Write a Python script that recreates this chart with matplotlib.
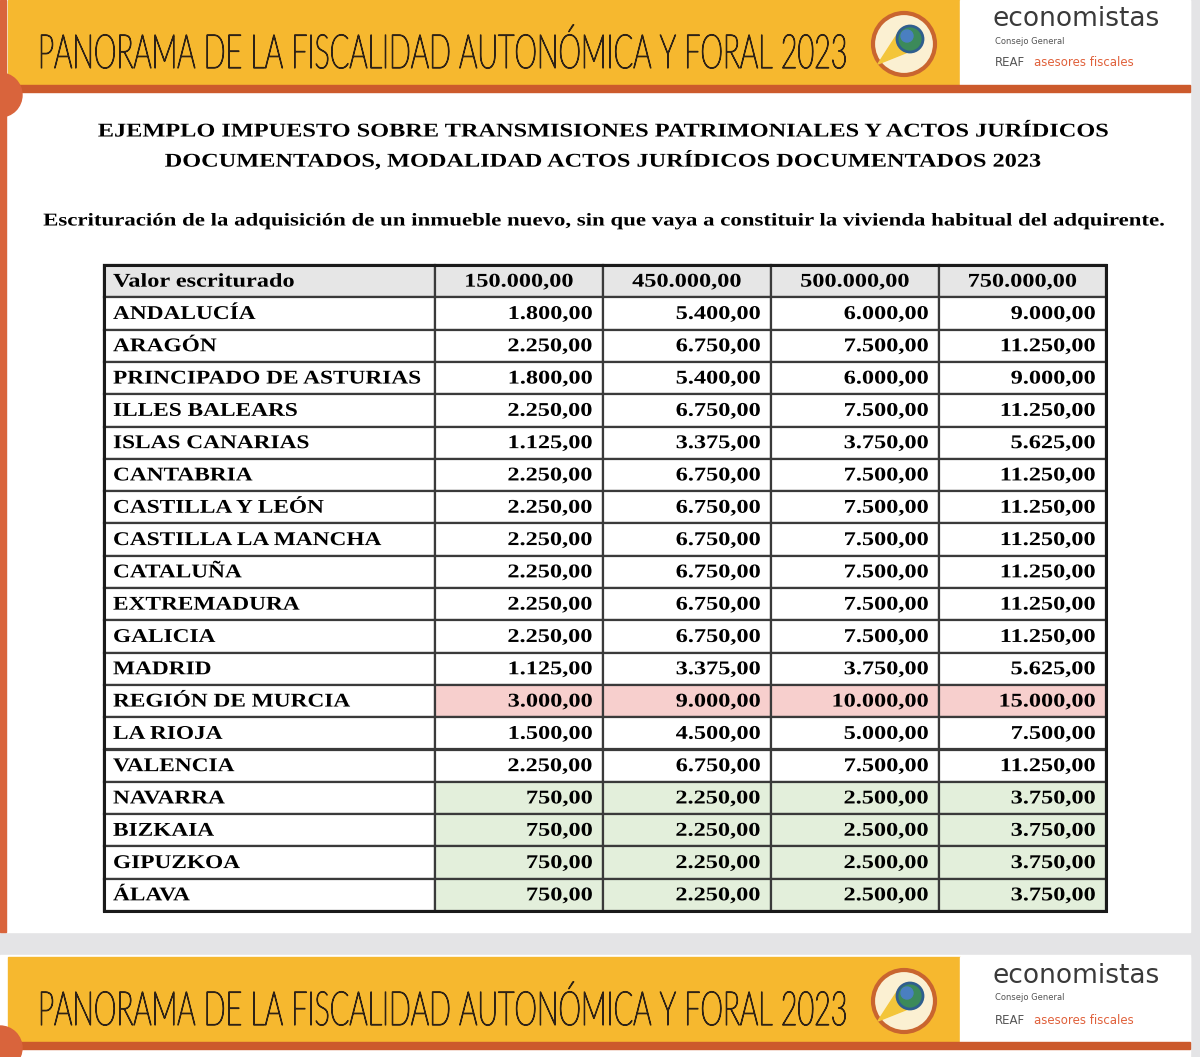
import matplotlib
matplotlib.use("Agg")
import matplotlib.pyplot as plt
from matplotlib.patches import Rectangle, Circle, Polygon
from matplotlib.patheffects import AbstractPathEffect
from matplotlib.transforms import Affine2D

# data
header = ["Valor escriturado", "150.000,00", "450.000,00", "500.000,00", "750.000,00"]
regions = ["ANDALUCÍA", "ARAGÓN", "PRINCIPADO DE ASTURIAS", "ILLES BALEARS",
           "ISLAS CANARIAS", "CANTABRIA", "CASTILLA Y LEÓN", "CASTILLA LA MANCHA",
           "CATALUÑA", "EXTREMADURA", "GALICIA", "MADRID", "REGIÓN DE MURCIA",
           "LA RIOJA", "VALENCIA", "NAVARRA", "BIZKAIA", "GIPUZKOA", "ÁLAVA"]
v150 = [1800, 2250, 1800, 2250, 1125, 2250, 2250, 2250, 2250, 2250, 2250, 1125,
        3000, 1500, 2250, 750, 750, 750, 750]
v450 = [5400, 6750, 5400, 6750, 3375, 6750, 6750, 6750, 6750, 6750, 6750, 3375,
        9000, 4500, 6750, 2250, 2250, 2250, 2250]
v500 = [6000, 7500, 6000, 7500, 3750, 7500, 7500, 7500, 7500, 7500, 7500, 3750,
        10000, 5000, 7500, 2500, 2500, 2500, 2500]
v750 = [9000, 11250, 9000, 11250, 5625, 11250, 11250, 11250, 11250, 11250, 11250, 5625,
        15000, 7500, 11250, 3750, 3750, 3750, 3750]
highlight_red = ["REGIÓN DE MURCIA"]
highlight_green = ["NAVARRA", "BIZKAIA", "GIPUZKOA", "ÁLAVA"]

title1 = "EJEMPLO IMPUESTO SOBRE TRANSMISIONES PATRIMONIALES Y ACTOS JURÍDICOS"
title2 = "DOCUMENTADOS, MODALIDAD ACTOS JURÍDICOS DOCUMENTADOS 2023"
subtitle = ("Escrituración de la adquisición de un inmueble nuevo, sin que vaya a "
            "constituir la vivienda habitual del adquirente.")
banner = "PANORAMA DE LA FISCALIDAD AUTONÓMICA Y FORAL 2023"


def fmt(v):
    s = f"{v:,.2f}"
    return s.replace(",", "X").replace(".", ",").replace("X", ".")


class Stretch(AbstractPathEffect):
    """scale glyphs around a fixed display point, optional outline stroke"""
    def __init__(self, sx, sy, x0, y0, stroke=0.0, color="black"):
        super().__init__()
        self.sx, self.sy = sx, sy
        self.x0, self.y0 = x0, y0
        self.stroke = stroke
        self.color = color

    def draw_path(self, renderer, gc, tpath, affine, rgbFace=None):
        t = affine + Affine2D().translate(-self.x0, -self.y0) \
            .scale(self.sx, self.sy).translate(self.x0, self.y0)
        if self.stroke > 0:
            gc0 = renderer.new_gc()
            gc0.copy_properties(gc)
            gc0.set_linewidth(self.stroke)
            gc0.set_foreground(self.color)
            renderer.draw_path(gc0, tpath, t, rgbFace)
            gc0.restore()
        else:
            renderer.draw_path(gc, tpath, t, rgbFace)


YELLOW = "#F6B82F"
ORANGE = "#CC5A2C"
SERIF = ["Liberation Serif", "DejaVu Serif"]
WIDE = 1.25

fig = plt.figure(figsize=(12, 10.57), dpi=100)
ax = fig.add_axes([0, 0, 1, 1])
ax.set_xlim(0, 1200)
ax.set_ylim(1057, 0)
ax.axis("off")
fig.patch.set_facecolor("#E4E4E6")
renderer = fig.canvas.get_renderer()


def stext(x, y, s, sx=WIDE, **kw):
    t = ax.text(x, y, s, **kw)
    x0, y0 = ax.transData.transform((x, y))
    t.set_path_effects([Stretch(sx, 1.0, x0, y0)])
    return t


# page
ax.add_patch(Rectangle((0, 0), 1190, 932, color="white", zorder=0))
ax.add_patch(Rectangle((0, 955), 1190, 102, color="white", zorder=0))


def draw_banner(y0):
    ax.add_patch(Rectangle((8, y0), 952, 85, color=YELLOW, zorder=1))
    ax.add_patch(Rectangle((960, y0), 230, 85, color="white", zorder=1))
    ax.add_patch(Rectangle((8, y0 + 85), 1182, 7, color=ORANGE, zorder=1))
    # fit the width with the font size, then stretch glyphs up to full height
    fs = 34
    col = "#2e2216"
    t = ax.text(38, y0 + 68, banner, fontsize=fs, family=["Lato", "DejaVu Sans"],
                weight="light", color=col, va="baseline", ha="left", zorder=2)
    w = t.get_window_extent(renderer).width
    fs_fit = fs * 810.0 / w
    t.set_fontsize(fs_fit)
    bx, by = ax.transData.transform((38, y0 + 68))
    t.set_path_effects([Stretch(1.0, fs / fs_fit, bx, by, stroke=0.9, color=col)])
    # logo
    cx, cy = 904, y0 + 44
    ax.add_patch(Circle((cx, cy), 31, facecolor="#FBF0D2", edgecolor="#C9652F",
                        lw=3, zorder=2))
    ax.add_patch(Polygon([(cx - 26, cy + 20), (cx - 4, cy - 14), (cx + 14, cy + 4)],
                         closed=True, color="#F3C53A", zorder=3))
    ax.add_patch(Circle((cx + 6, cy - 5), 13, facecolor="#3C8A5A",
                        edgecolor="#2F5E8E", lw=2, zorder=4))
    ax.add_patch(Circle((cx + 3, cy - 8), 6, color="#4A7FC1", zorder=5))
    ax.text(993, y0 + 19, "economistas", fontsize=19, family="DejaVu Sans",
            color="#3a3a3a", va="center", ha="left", zorder=2)
    ax.text(995, y0 + 41, "Consejo General", fontsize=6, color="#555555",
            va="center", ha="left", zorder=2)
    ax.text(995, y0 + 63, "REAF", fontsize=8.5, color="#555555",
            va="center", ha="left", zorder=2)
    ax.text(1034, y0 + 63, "asesores fiscales", fontsize=8.5, color="#E0603A",
            va="center", ha="left", zorder=2)


draw_banner(0)
draw_banner(957)

# left orange edge + round tabs
ax.add_patch(Rectangle((0, 0), 6, 932, color="#D9643C", zorder=1))
ax.add_patch(Circle((0, 95), 22, color="#D9643C", zorder=2))
ax.add_patch(Circle((0, 1048), 22, color="#D9643C", zorder=2))

# titles
stext(605, 132, title1, fontsize=14, family=SERIF, weight="bold",
      ha="center", va="center")
stext(605, 161, title2, fontsize=14, family=SERIF, weight="bold",
      ha="center", va="center")
stext(603, 221, subtitle, sx=1.265, fontsize=13, family=SERIF, weight="bold",
      ha="center", va="center")

# table
col_edges = [104, 435, 603, 771, 939, 1106]
top = 265
row_h = 32.3
n_rows = len(regions) + 1
bottom = top + n_rows * row_h

cols = [v150, v450, v500, v750]
for r in range(n_rows):
    y = top + r * row_h
    for c in range(5):
        x0, x1 = col_edges[c], col_edges[c + 1]
        if r == 0:
            fc = "#E6E6E6"
            txt = header[c]
        else:
            name = regions[r - 1]
            fc = "white"
            if c > 0 and name in highlight_red:
                fc = "#F7CFCD"
            elif c > 0 and name in highlight_green:
                fc = "#E3EFDB"
            txt = name if c == 0 else fmt(cols[c - 1][r - 1])
        ax.add_patch(Rectangle((x0, y), x1 - x0, row_h, facecolor=fc,
                               edgecolor="#3a3a3a", lw=1.6, zorder=2))
        if c == 0:
            stext(x0 + 9, y + row_h / 2 + 1, txt, sx=1.2 if r > 0 else WIDE,
                  fontsize=14, family=SERIF, weight="bold", ha="left",
                  va="center", zorder=3)
        elif r == 0:
            stext((x0 + x1) / 2, y + row_h / 2 + 1, txt, fontsize=14,
                  family=SERIF, weight="bold", ha="center", va="center", zorder=3)
        else:
            stext(x1 - 10, y + row_h / 2 + 1, txt, fontsize=14, family=SERIF,
                  weight="bold", ha="right", va="center", zorder=3)

ax.add_patch(Rectangle((col_edges[0], top), col_edges[-1] - col_edges[0],
                       bottom - top, fill=False, edgecolor="#1a1a1a", lw=2.2,
                       zorder=4))

fig.savefig("out.png", dpi=100)
